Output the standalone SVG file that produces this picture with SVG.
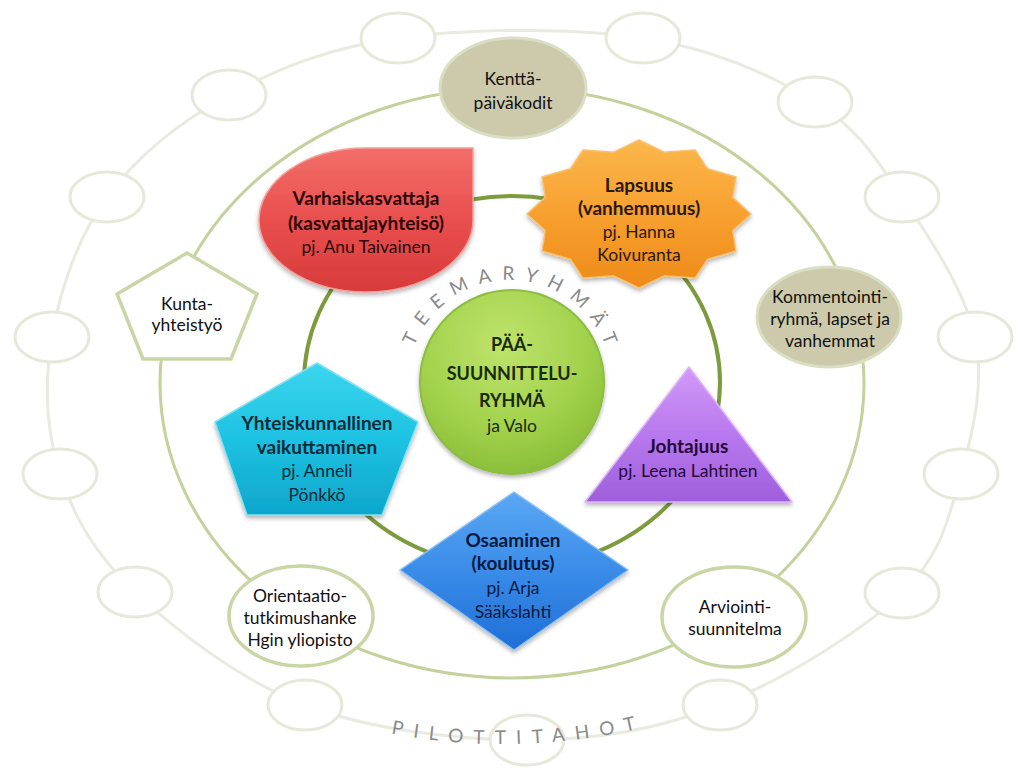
<svg xmlns="http://www.w3.org/2000/svg" width="1024" height="776" viewBox="0 0 1024 776">
<style>
.t{font-family:Lato,"Liberation Sans",sans-serif;text-anchor:middle}
.b{font-weight:bold;font-size:19px}
.c{font-weight:bold;font-size:18px}
.r{font-size:17.5px}
.o{font-size:17.5px;fill:#111}
.ring1{fill:none;stroke:#e8ebdf;stroke-width:3}
.sm{fill:#fff;stroke:#e6e9da;stroke-width:3}
.ring2{fill:none;stroke:#c3d29c;stroke-width:3}
.ring3{fill:none;stroke:#7c9b3c;stroke-width:4}
.tan{fill:#cdc9ab;stroke:#d9dfc2;stroke-width:3}
.wh{fill:#fff;stroke:#c8d6a6;stroke-width:3.5}
.arc{font-family:Lato,"Liberation Sans",sans-serif;font-size:19px;fill:#8a8a8a;letter-spacing:10.5px}
</style>
<defs>
<linearGradient id="gRed" x1="0" y1="0" x2="0" y2="1"><stop offset="0" stop-color="#f26e68"/><stop offset="0.5" stop-color="#e94f4e"/><stop offset="1" stop-color="#d83a3a"/></linearGradient>
<linearGradient id="gOra" x1="0" y1="0" x2="0" y2="1"><stop offset="0" stop-color="#fbb84a"/><stop offset="0.5" stop-color="#f7a030"/><stop offset="1" stop-color="#ee8a18"/></linearGradient>
<linearGradient id="gCya" x1="0" y1="0" x2="0" y2="1"><stop offset="0" stop-color="#3ad6ee"/><stop offset="0.5" stop-color="#1ec2e2"/><stop offset="1" stop-color="#0ea6cc"/></linearGradient>
<linearGradient id="gBlu" x1="0" y1="0" x2="0" y2="1"><stop offset="0" stop-color="#5aa8f4"/><stop offset="0.5" stop-color="#3a8ce8"/><stop offset="1" stop-color="#1e6ed6"/></linearGradient>
<linearGradient id="gPur" x1="0" y1="0" x2="0" y2="1"><stop offset="0" stop-color="#d29af7"/><stop offset="0.5" stop-color="#b878ee"/><stop offset="1" stop-color="#9f5fdc"/></linearGradient>
<radialGradient id="gGrn" cx="0.45" cy="0.3" r="0.75"><stop offset="0" stop-color="#bfe36c"/><stop offset="0.6" stop-color="#a2d24c"/><stop offset="1" stop-color="#86bb36"/></radialGradient>
<filter id="sh" x="-20%" y="-20%" width="140%" height="150%"><feDropShadow dx="0" dy="2.5" stdDeviation="2" flood-color="#000" flood-opacity="0.3"/></filter>
<path id="arcTeema" d="M408,382 A102,102 0 0 1 612,382"/>
<path id="arcPilot" d="M330,718 Q509,773 700,712"/>
</defs>
<rect width="1024" height="776" fill="#fff"/>
<g id="connectors">
<path class="ring1" d="M398,38 C467,28.5 573.5,27.3 643,38 C712.5,48.7 771.8,75.5 815,102 C858.2,128.5 875.3,157.8 902,197 C928.7,236.2 965.2,290.8 975,337 C984.8,383.2 973.2,431.3 961,474 C948.8,516.7 942.2,554.5 902,593 C861.8,631.5 782.5,680.3 720,705 C657.5,729.7 596.2,740 527,740 C457.8,740 370.3,729.8 305,705 C239.7,680.2 175.8,630.5 135,592 C94.2,553.5 73.8,516.5 60,474 C46.2,431.5 44.2,383.2 52,337 C59.8,290.8 77.5,237.3 107,197 C136.5,156.7 180.5,121.5 229,95 C277.5,68.5 329,47.5 398,38 Z"/>
<ellipse class="ring2" cx="512" cy="383" rx="352" ry="295"/>
<ellipse class="ring3" cx="512" cy="382" rx="208" ry="186"/>
</g>
<g id="pilot-slots">
<ellipse class="sm" cx="398" cy="38" rx="37" ry="25"/>
<ellipse class="sm" cx="643" cy="38" rx="37" ry="25"/>
<ellipse class="sm" cx="815" cy="102" rx="37" ry="25"/>
<ellipse class="sm" cx="902" cy="197" rx="37" ry="25"/>
<ellipse class="sm" cx="975" cy="337" rx="37" ry="25"/>
<ellipse class="sm" cx="961" cy="474" rx="37" ry="25"/>
<ellipse class="sm" cx="902" cy="593" rx="37" ry="25"/>
<ellipse class="sm" cx="720" cy="705" rx="37" ry="25"/>
<ellipse class="sm" cx="527" cy="740" rx="37" ry="25"/>
<ellipse class="sm" cx="305" cy="705" rx="37" ry="25"/>
<ellipse class="sm" cx="135" cy="592" rx="37" ry="25"/>
<ellipse class="sm" cx="60" cy="474" rx="37" ry="25"/>
<ellipse class="sm" cx="52" cy="337" rx="37" ry="25"/>
<ellipse class="sm" cx="107" cy="197" rx="37" ry="25"/>
<ellipse class="sm" cx="229" cy="95" rx="37" ry="25"/>
</g>
<g id="label-pilottitahot">
<text class="arc"><textPath href="#arcPilot" startOffset="51%" text-anchor="middle">PILOTTITAHOT</textPath></text>
</g>
<g id="label-teemaryhmat">
<text class="arc"><textPath href="#arcTeema" startOffset="51.5%" text-anchor="middle">TEEMARYHMÄT</textPath></text>
</g>
<g id="node-kentta">
<ellipse class="tan" cx="513" cy="88" rx="73" ry="50"/>
<text class="t o" x="513" y="85">Kenttä-</text>
<text class="t o" x="513" y="109">päiväkodit</text>
</g>
<g id="node-kommentointi">
<ellipse class="tan" cx="829" cy="317" rx="72" ry="50"/>
<text class="t o" x="830" y="303">Kommentointi-</text>
<text class="t o" x="830" y="325">ryhmä, lapset ja</text>
<text class="t o" x="830" y="347">vanhemmat</text>
</g>
<g id="node-arviointi">
<ellipse class="wh" cx="734" cy="617" rx="72" ry="50"/>
<text class="t o" x="735" y="613">Arviointi-</text>
<text class="t o" x="735" y="635">suunnitelma</text>
</g>
<g id="node-orientaatio">
<ellipse class="wh" cx="301" cy="616" rx="72" ry="50"/>
<text class="t o" x="300" y="602">Orientaatio-</text>
<text class="t o" x="300" y="624">tutkimushanke</text>
<text class="t o" x="300" y="646">Hgin yliopisto</text>
</g>
<g id="node-kunta">
<polygon class="wh" points="187,253 257,294 231,359 143,359 117,294"/>
<text class="t o" x="187" y="310">Kunta-</text>
<text class="t o" x="187" y="331">yhteistyö</text>
</g>
<g id="node-varhaiskasvattaja">
<path d="M366,148 L473,148 L473,220 A107,72 0 1 1 366,148 Z" fill="url(#gRed)" stroke="#f3a09a" stroke-width="1.5" filter="url(#sh)"/>
<text class="t b" x="366" y="205" fill="#2a0606">Varhaiskasvattaja</text>
<text class="t b" x="366" y="230" fill="#2a0606">(kasvattajayhteisö)</text>
<text class="t r" x="366" y="253" fill="#2a0606">pj. Anu Taivainen</text>
</g>
<g id="node-lapsuus">
<polygon points="751,214 732.7,230.6 736,251 707.6,259.2 695,278.1 664.1,275.8 639,288 613.9,275.8 583,278.1 570.4,259.2 542,251 545.3,230.6 527,214 545.3,197.4 542,177 570.4,168.8 583,149.9 613.9,152.2 639,140 664.1,152.2 695,149.9 707.6,168.8 736,177 732.7,197.4" fill="url(#gOra)" stroke="#f8c070" stroke-width="1.5" stroke-linejoin="round" filter="url(#sh)"/>
<text class="t b" x="639" y="192" fill="#2b1800">Lapsuus</text>
<text class="t b" x="639" y="215" fill="#2b1800">(vanhemmuus)</text>
<text class="t r" x="639" y="238" fill="#2b1800">pj. Hanna</text>
<text class="t r" x="639" y="261" fill="#2b1800">Koivuranta</text>
</g>
<g id="node-yhteiskunnallinen">
<polygon points="317,363 418,422 382,515 247,515 215,422" fill="url(#gCya)" stroke="#7fe2f2" stroke-width="1.5" stroke-linejoin="round" filter="url(#sh)"/>
<text class="t b" x="317" y="430" fill="#032a36">Yhteiskunnallinen</text>
<text class="t b" x="317" y="454" fill="#032a36">vaikuttaminen</text>
<text class="t r" x="317" y="477" fill="#032a36">pj. Anneli</text>
<text class="t r" x="317" y="501" fill="#032a36">Pönkkö</text>
</g>
<g id="node-osaaminen">
<polygon points="514,492 628,570 514,650 400,570" fill="url(#gBlu)" stroke="#8cc0f6" stroke-width="1.5" stroke-linejoin="round" filter="url(#sh)"/>
<text class="t b" x="513" y="547" fill="#061a40">Osaaminen</text>
<text class="t b" x="513" y="570" fill="#061a40">(koulutus)</text>
<text class="t r" x="513" y="594" fill="#061a40">pj. Arja</text>
<text class="t r" x="513" y="618" fill="#061a40">Sääkslahti</text>
</g>
<g id="node-johtajuus">
<polygon points="689,367 792,502 585,502" fill="url(#gPur)" stroke="#dcb4f8" stroke-width="1.5" stroke-linejoin="round" filter="url(#sh)"/>
<text class="t b" x="688" y="453" fill="#25083a">Johtajuus</text>
<text class="t r" x="688" y="477" fill="#25083a">pj. Leena Lahtinen</text>
</g>
<g id="node-paasuunnitteluryhma">
<circle cx="512" cy="382" r="92" fill="url(#gGrn)" stroke="#8cbc40" stroke-width="2" filter="url(#sh)"/>
<text class="t c" x="512" y="351" fill="#1a2a05">PÄÄ-</text>
<text class="t c" x="512" y="380" fill="#1a2a05">SUUNNITTELU-</text>
<text class="t c" x="512" y="407" fill="#1a2a05">RYHMÄ</text>
<text class="t r" x="512" y="432" fill="#1a2a05">ja Valo</text>
</g>
</svg>
